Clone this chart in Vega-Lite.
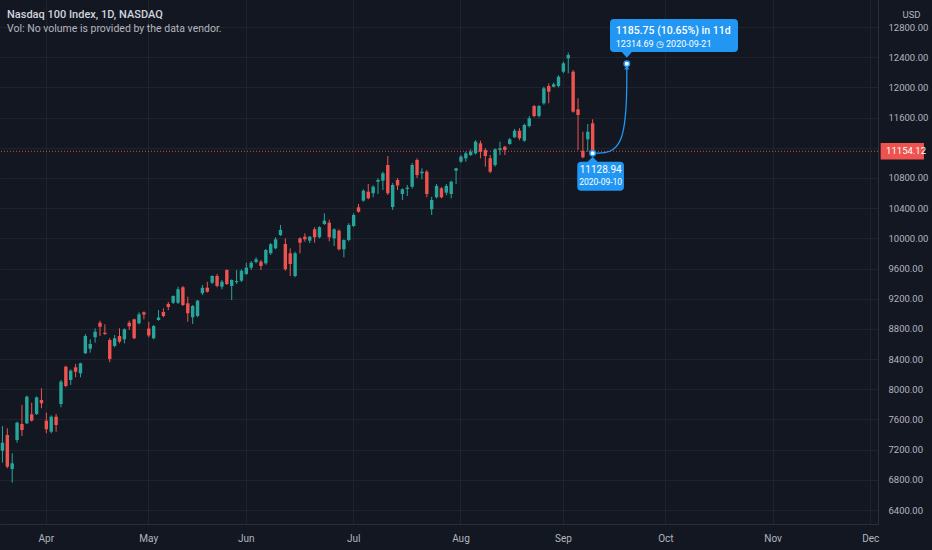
{
  "$schema": "https://vega.github.io/schema/vega-lite/v6.json",
  "width": 878,
  "height": 524,
  "autosize": "none",
  "padding": {"left": 0, "top": 0, "right": 54, "bottom": 26},
  "background": "#131722",
  "config": {"view": {"stroke": null}, "font": "Roboto"},
  "title": {
    "text": "Nasdaq 100 Index, 1D, NASDAQ",
    "subtitle": "Vol: No volume is provided by the data vendor.",
    "anchor": "start",
    "frame": "group",
    "orient": "top",
    "offset": -34,
    "dx": 7,
    "color": "#d1d4dc",
    "subtitleColor": "#b2b5be",
    "fontSize": 11,
    "fontWeight": 500,
    "subtitleFontSize": 10.5,
    "subtitlePadding": 4
  },
  "data": {
    "values": [
      {"d": "2020-03-19", "o": 7186, "h": 7513, "l": 7027, "c": 7292},
      {"d": "2020-03-20", "o": 7394, "h": 7483, "l": 6953, "c": 6974},
      {"d": "2020-03-23", "o": 6944, "h": 7152, "l": 6762, "c": 7019},
      {"d": "2020-03-24", "o": 7328, "h": 7571, "l": 7292, "c": 7557},
      {"d": "2020-03-25", "o": 7540, "h": 7792, "l": 7381, "c": 7460},
      {"d": "2020-03-26", "o": 7549, "h": 7915, "l": 7540, "c": 7902},
      {"d": "2020-03-27", "o": 7668, "h": 7822, "l": 7571, "c": 7584},
      {"d": "2020-03-30", "o": 7672, "h": 7905, "l": 7659, "c": 7893},
      {"d": "2020-03-31", "o": 7858, "h": 8013, "l": 7748, "c": 7814},
      {"d": "2020-04-01", "o": 7584, "h": 7690, "l": 7417, "c": 7470},
      {"d": "2020-04-02", "o": 7438, "h": 7655, "l": 7417, "c": 7637},
      {"d": "2020-04-03", "o": 7637, "h": 7672, "l": 7438, "c": 7527},
      {"d": "2020-04-06", "o": 7805, "h": 8123, "l": 7761, "c": 8101},
      {"d": "2020-04-07", "o": 8299, "h": 8313, "l": 8026, "c": 8044},
      {"d": "2020-04-08", "o": 8123, "h": 8265, "l": 8057, "c": 8246},
      {"d": "2020-04-09", "o": 8291, "h": 8335, "l": 8159, "c": 8233},
      {"d": "2020-04-13", "o": 8212, "h": 8352, "l": 8159, "c": 8344},
      {"d": "2020-04-14", "o": 8477, "h": 8733, "l": 8468, "c": 8706},
      {"d": "2020-04-15", "o": 8538, "h": 8662, "l": 8485, "c": 8600},
      {"d": "2020-04-16", "o": 8689, "h": 8808, "l": 8617, "c": 8763},
      {"d": "2020-04-17", "o": 8882, "h": 8909, "l": 8706, "c": 8829},
      {"d": "2020-04-20", "o": 8750, "h": 8861, "l": 8719, "c": 8733},
      {"d": "2020-04-21", "o": 8653, "h": 8676, "l": 8358, "c": 8401},
      {"d": "2020-04-22", "o": 8574, "h": 8719, "l": 8556, "c": 8676},
      {"d": "2020-04-23", "o": 8706, "h": 8808, "l": 8609, "c": 8631},
      {"d": "2020-04-24", "o": 8662, "h": 8808, "l": 8609, "c": 8795},
      {"d": "2020-04-27", "o": 8882, "h": 8909, "l": 8786, "c": 8834},
      {"d": "2020-04-28", "o": 8927, "h": 8935, "l": 8662, "c": 8676},
      {"d": "2020-04-29", "o": 8874, "h": 9020, "l": 8861, "c": 8993},
      {"d": "2020-04-30", "o": 9020, "h": 9031, "l": 8927, "c": 8991},
      {"d": "2020-05-01", "o": 8805, "h": 8896, "l": 8689, "c": 8713},
      {"d": "2020-05-04", "o": 8676, "h": 8852, "l": 8662, "c": 8838},
      {"d": "2020-05-05", "o": 8918, "h": 9050, "l": 8909, "c": 8951},
      {"d": "2020-05-06", "o": 9024, "h": 9073, "l": 8954, "c": 8971},
      {"d": "2020-05-07", "o": 9130, "h": 9157, "l": 9050, "c": 9090},
      {"d": "2020-05-08", "o": 9147, "h": 9245, "l": 9130, "c": 9236},
      {"d": "2020-05-11", "o": 9147, "h": 9359, "l": 9130, "c": 9325},
      {"d": "2020-05-12", "o": 9351, "h": 9369, "l": 9104, "c": 9117},
      {"d": "2020-05-13", "o": 9139, "h": 9227, "l": 8895, "c": 9007},
      {"d": "2020-05-14", "o": 8954, "h": 9117, "l": 8865, "c": 9104},
      {"d": "2020-05-15", "o": 8971, "h": 9183, "l": 8954, "c": 9174},
      {"d": "2020-05-18", "o": 9272, "h": 9382, "l": 9250, "c": 9345},
      {"d": "2020-05-19", "o": 9346, "h": 9425, "l": 9280, "c": 9293},
      {"d": "2020-05-20", "o": 9412, "h": 9510, "l": 9395, "c": 9501},
      {"d": "2020-05-21", "o": 9501, "h": 9528, "l": 9351, "c": 9369},
      {"d": "2020-05-22", "o": 9359, "h": 9448, "l": 9325, "c": 9425},
      {"d": "2020-05-26", "o": 9580, "h": 9590, "l": 9382, "c": 9395},
      {"d": "2020-05-27", "o": 9369, "h": 9457, "l": 9183, "c": 9448},
      {"d": "2020-05-28", "o": 9420, "h": 9580, "l": 9395, "c": 9434},
      {"d": "2020-05-29", "o": 9439, "h": 9590, "l": 9420, "c": 9571},
      {"d": "2020-06-01", "o": 9528, "h": 9677, "l": 9514, "c": 9611},
      {"d": "2020-06-02", "o": 9611, "h": 9700, "l": 9580, "c": 9677},
      {"d": "2020-06-03", "o": 9686, "h": 9749, "l": 9669, "c": 9722},
      {"d": "2020-06-04", "o": 9691, "h": 9713, "l": 9580, "c": 9634},
      {"d": "2020-06-05", "o": 9669, "h": 9858, "l": 9650, "c": 9846},
      {"d": "2020-06-08", "o": 9802, "h": 9938, "l": 9780, "c": 9921},
      {"d": "2020-06-09", "o": 9868, "h": 10014, "l": 9855, "c": 9987},
      {"d": "2020-06-10", "o": 10044, "h": 10177, "l": 10031, "c": 10111},
      {"d": "2020-06-11", "o": 9925, "h": 10000, "l": 9571, "c": 9590},
      {"d": "2020-06-12", "o": 9802, "h": 9868, "l": 9501, "c": 9660},
      {"d": "2020-06-15", "o": 9501, "h": 9823, "l": 9484, "c": 9802},
      {"d": "2020-06-16", "o": 9999, "h": 10014, "l": 9802, "c": 9942},
      {"d": "2020-06-17", "o": 10022, "h": 10067, "l": 9956, "c": 9987},
      {"d": "2020-06-18", "o": 9969, "h": 10031, "l": 9938, "c": 10022},
      {"d": "2020-06-19", "o": 10120, "h": 10147, "l": 9942, "c": 10014},
      {"d": "2020-06-22", "o": 10014, "h": 10160, "l": 10000, "c": 10147},
      {"d": "2020-06-23", "o": 10190, "h": 10332, "l": 10177, "c": 10234},
      {"d": "2020-06-24", "o": 10207, "h": 10247, "l": 9960, "c": 10014},
      {"d": "2020-06-25", "o": 10000, "h": 10133, "l": 9899, "c": 10120},
      {"d": "2020-06-26", "o": 10101, "h": 10120, "l": 9840, "c": 9855},
      {"d": "2020-06-29", "o": 9855, "h": 9987, "l": 9749, "c": 9978},
      {"d": "2020-06-30", "o": 9978, "h": 10200, "l": 9960, "c": 10177},
      {"d": "2020-07-01", "o": 10164, "h": 10332, "l": 10150, "c": 10309},
      {"d": "2020-07-02", "o": 10411, "h": 10455, "l": 10340, "c": 10353},
      {"d": "2020-07-06", "o": 10499, "h": 10650, "l": 10486, "c": 10631},
      {"d": "2020-07-07", "o": 10618, "h": 10720, "l": 10517, "c": 10531},
      {"d": "2020-07-08", "o": 10597, "h": 10703, "l": 10544, "c": 10684},
      {"d": "2020-07-09", "o": 10751, "h": 10796, "l": 10588, "c": 10773},
      {"d": "2020-07-10", "o": 10764, "h": 10883, "l": 10640, "c": 10862},
      {"d": "2020-07-13", "o": 10972, "h": 11091, "l": 10574, "c": 10597},
      {"d": "2020-07-14", "o": 10415, "h": 10733, "l": 10376, "c": 10707},
      {"d": "2020-07-15", "o": 10773, "h": 10800, "l": 10640, "c": 10700},
      {"d": "2020-07-16", "o": 10588, "h": 10663, "l": 10508, "c": 10650},
      {"d": "2020-07-17", "o": 10654, "h": 10707, "l": 10561, "c": 10671},
      {"d": "2020-07-20", "o": 10684, "h": 11000, "l": 10660, "c": 10972},
      {"d": "2020-07-21", "o": 11038, "h": 11060, "l": 10800, "c": 10839},
      {"d": "2020-07-22", "o": 10862, "h": 10928, "l": 10782, "c": 10883},
      {"d": "2020-07-23", "o": 10883, "h": 10905, "l": 10544, "c": 10588},
      {"d": "2020-07-24", "o": 10385, "h": 10552, "l": 10309, "c": 10508},
      {"d": "2020-07-27", "o": 10544, "h": 10720, "l": 10530, "c": 10694},
      {"d": "2020-07-28", "o": 10663, "h": 10680, "l": 10530, "c": 10544},
      {"d": "2020-07-29", "o": 10605, "h": 10720, "l": 10570, "c": 10694},
      {"d": "2020-07-30", "o": 10588, "h": 10764, "l": 10530, "c": 10751},
      {"d": "2020-07-31", "o": 10897, "h": 10935, "l": 10720, "c": 10928},
      {"d": "2020-08-03", "o": 11016, "h": 11105, "l": 11000, "c": 11082},
      {"d": "2020-08-04", "o": 11060, "h": 11148, "l": 11016, "c": 11127},
      {"d": "2020-08-05", "o": 11104, "h": 11180, "l": 11090, "c": 11148},
      {"d": "2020-08-06", "o": 11127, "h": 11300, "l": 11110, "c": 11281},
      {"d": "2020-08-07", "o": 11259, "h": 11294, "l": 11060, "c": 11148},
      {"d": "2020-08-10", "o": 11170, "h": 11193, "l": 10950, "c": 11091},
      {"d": "2020-08-11", "o": 11061, "h": 11104, "l": 10862, "c": 10883},
      {"d": "2020-08-12", "o": 10972, "h": 11193, "l": 10950, "c": 11180},
      {"d": "2020-08-13", "o": 11170, "h": 11281, "l": 11104, "c": 11193},
      {"d": "2020-08-14", "o": 11214, "h": 11225, "l": 11104, "c": 11170},
      {"d": "2020-08-17", "o": 11250, "h": 11330, "l": 11240, "c": 11312},
      {"d": "2020-08-18", "o": 11339, "h": 11450, "l": 11330, "c": 11426},
      {"d": "2020-08-19", "o": 11426, "h": 11460, "l": 11300, "c": 11326},
      {"d": "2020-08-20", "o": 11294, "h": 11520, "l": 11280, "c": 11502},
      {"d": "2020-08-21", "o": 11488, "h": 11620, "l": 11470, "c": 11590},
      {"d": "2020-08-24", "o": 11753, "h": 11767, "l": 11604, "c": 11621},
      {"d": "2020-08-25", "o": 11621, "h": 11767, "l": 11600, "c": 11753},
      {"d": "2020-08-26", "o": 11789, "h": 12010, "l": 11770, "c": 11988},
      {"d": "2020-08-27", "o": 12018, "h": 12054, "l": 11789, "c": 11943},
      {"d": "2020-08-28", "o": 12009, "h": 12062, "l": 12000, "c": 12041},
      {"d": "2020-08-31", "o": 12018, "h": 12160, "l": 12000, "c": 12142},
      {"d": "2020-09-01", "o": 12208, "h": 12341, "l": 12187, "c": 12319},
      {"d": "2020-09-02", "o": 12385, "h": 12460, "l": 12187, "c": 12429},
      {"d": "2020-09-03", "o": 12208, "h": 12230, "l": 11665, "c": 11678},
      {"d": "2020-09-04", "o": 11710, "h": 11856, "l": 11170, "c": 11634},
      {"d": "2020-09-08", "o": 11161, "h": 11413, "l": 11060, "c": 11074},
      {"d": "2020-09-09", "o": 11312, "h": 11515, "l": 11148, "c": 11413},
      {"d": "2020-09-10", "o": 11524, "h": 11577, "l": 11128.94, "c": 11154.12},
      {"d": "2020-09-11"}, {"d": "2020-09-14"}, {"d": "2020-09-15"}, {"d": "2020-09-16"},
      {"d": "2020-09-17"}, {"d": "2020-09-18"}, {"d": "2020-09-21"}, {"d": "2020-09-22"},
      {"d": "2020-09-23"}, {"d": "2020-09-24"}, {"d": "2020-09-25"}, {"d": "2020-09-28"},
      {"d": "2020-09-29"}, {"d": "2020-09-30"}, {"d": "2020-10-01"}, {"d": "2020-10-02"},
      {"d": "2020-10-05"}, {"d": "2020-10-06"}, {"d": "2020-10-07"}, {"d": "2020-10-08"},
      {"d": "2020-10-09"}, {"d": "2020-10-12"}, {"d": "2020-10-13"}, {"d": "2020-10-14"},
      {"d": "2020-10-15"}, {"d": "2020-10-16"}, {"d": "2020-10-19"}, {"d": "2020-10-20"},
      {"d": "2020-10-21"}, {"d": "2020-10-22"}, {"d": "2020-10-23"}, {"d": "2020-10-26"},
      {"d": "2020-10-27"}, {"d": "2020-10-28"}, {"d": "2020-10-29"}, {"d": "2020-10-30"},
      {"d": "2020-11-02"}, {"d": "2020-11-03"}, {"d": "2020-11-04"}, {"d": "2020-11-05"},
      {"d": "2020-11-06"}, {"d": "2020-11-09"}, {"d": "2020-11-10"}, {"d": "2020-11-11"},
      {"d": "2020-11-12"}, {"d": "2020-11-13"}, {"d": "2020-11-16"}, {"d": "2020-11-17"},
      {"d": "2020-11-18"}, {"d": "2020-11-19"}, {"d": "2020-11-20"}, {"d": "2020-11-23"},
      {"d": "2020-11-24"}, {"d": "2020-11-25"}, {"d": "2020-11-27"}, {"d": "2020-11-30"},
      {"d": "2020-12-01"}, {"d": "2020-12-02"}
    ]
  },
  "layer": [
    {
      "mark": {"type": "tick", "opacity": 0},
      "encoding": {
        "x": {
          "field": "d",
          "type": "ordinal",
          "title": null,
          "scale": {"paddingInner": 0, "paddingOuter": 0},
          "axis": {
            "values": ["2020-04-01", "2020-05-01", "2020-06-01", "2020-07-01", "2020-08-03", "2020-09-01", "2020-10-01", "2020-11-02", "2020-12-01"],
            "labelExpr": "utcFormat(toDate(datum.value), '%b')",
            "labelAngle": 0,
            "labelColor": "#b2b5be",
            "labelFontSize": 10,
            "labelPadding": 9,
            "ticks": false,
            "tickSize": 0,
            "grid": true,
            "gridColor": "#1f232e",
            "domainColor": "#2a2e39"
          }
        }
      }
    },
    {
      "mark": {"type": "rule", "strokeWidth": 1},
      "encoding": {
        "x": {"field": "d", "type": "ordinal", "title": null},
        "y": {
          "field": "l",
          "type": "quantitative",
          "scale": {"domain": [6215, 13158], "nice": false, "zero": false},
          "axis": {
            "title": "USD",
            "orient": "right",
            "values": [6400, 6800, 7200, 7600, 8000, 8400, 8800, 9200, 9600, 10000, 10400, 10800, 11200, 11600, 12000, 12400, 12800],
            "tickCount": 20,
            "labelExpr": "datum.value == 11200 ? '' : format(datum.value, '.2f')",
            "labelOverlap": false,
            "labelColor": "#b2b5be",
            "labelFontSize": 9.5,
            "labelPadding": 10,
            "ticks": false,
            "tickSize": 0,
            "grid": true,
            "gridColor": "#1f232e",
            "domainColor": "#2a2e39",
            "titleAngle": 0,
            "titleX": 33,
            "titleY": 14,
            "titleAlign": "center",
            "titleBaseline": "middle",
            "titleColor": "#b2b5be",
            "titleFontSize": 9.5,
            "titleFontWeight": "normal"
          }
        },
        "y2": {"field": "h"},
        "color": {"condition": {"test": "datum.c >= datum.o", "value": "#26a69a"}, "value": "#ef5350"}
      }
    },
    {
      "mark": {"type": "bar", "width": {"band": 0.7}},
      "encoding": {
        "x": {"field": "d", "type": "ordinal"},
        "y": {"field": "o", "type": "quantitative"},
        "y2": {"field": "c"},
        "color": {"condition": {"test": "datum.c >= datum.o", "value": "#26a69a"}, "value": "#ef5350"}
      }
    },
    {
      "data": {"values": [{"p": 11154.12}]},
      "mark": {"type": "rule", "color": "#ef5350", "strokeDash": [1, 2], "strokeWidth": 1, "opacity": 0.9},
      "encoding": {"y": {"field": "p", "type": "quantitative"}}
    },
    {
      "data": {"values": [
        {"d": "2020-09-10", "p": 11128.94, "k": 0},
        {"d": "2020-09-21", "p": 11128.94, "k": 1},
        {"d": "2020-09-21", "p": 12314.69, "k": 2}
      ]},
      "mark": {"type": "line", "interpolate": "basis", "color": "#2196f3", "strokeWidth": 1.3},
      "encoding": {
        "x": {"field": "d", "type": "ordinal"},
        "y": {"field": "p", "type": "quantitative"},
        "order": {"field": "k", "type": "quantitative"}
      }
    },
    {
      "data": {"values": [{"d": "2020-09-21", "p": 12314.69}]},
      "mark": {"type": "point", "shape": "M-0.5,1.15L0,0.3L0.5,1.15Z", "size": 100, "filled": true, "opacity": 1, "strokeWidth": 0, "color": "#2196f3"},
      "encoding": {
        "x": {"field": "d", "type": "ordinal"},
        "y": {"field": "p", "type": "quantitative"}
      }
    },
    {
      "data": {"values": [{"d": "2020-09-10", "p": 11128.94}, {"d": "2020-09-21", "p": 12314.69}]},
      "mark": {"type": "point", "shape": "circle", "size": 30, "filled": true, "opacity": 1, "fill": "#ffffff", "stroke": "#2196f3", "strokeWidth": 1.5},
      "encoding": {
        "x": {"field": "d", "type": "ordinal"},
        "y": {"field": "p", "type": "quantitative"}
      }
    },
    {
      "data": {"values": [{"d": "2020-09-21", "p": 12314.69, "l1": "1185.75 (10.65%) in 11d", "l2": "12314.69 ◷ 2020-09-21"}]},
      "layer": [
        {
          "mark": {"type": "point", "shape": "M-0.128,-0.446H1.072Q1.112,-0.446,1.112,-0.406V-0.156Q1.112,-0.116,1.072,-0.116H0.05L0,-0.06L-0.05,-0.116H-0.128Q-0.168,-0.116,-0.168,-0.156V-0.406Q-0.168,-0.446,-0.128,-0.446Z", "size": 40000, "filled": true, "opacity": 1, "strokeWidth": 0, "color": "#2196f3"}
        },
        {
          "mark": {"type": "text", "align": "left", "baseline": "middle", "dx": -11, "dy": -33, "fontSize": 10.5, "fontWeight": 500, "color": "#ffffff"},
          "encoding": {"text": {"field": "l1"}}
        },
        {
          "mark": {"type": "text", "align": "left", "baseline": "middle", "dx": -11, "dy": -19.5, "fontSize": 9, "color": "#ffffff"},
          "encoding": {"text": {"field": "l2"}}
        }
      ],
      "encoding": {
        "x": {"field": "d", "type": "ordinal"},
        "y": {"field": "p", "type": "quantitative"}
      }
    },
    {
      "data": {"values": [{"d": "2020-09-10", "p": 11128.94, "l1": "11128.94", "l2": "2020-09-10"}]},
      "layer": [
        {
          "mark": {"type": "point", "shape": "M-0.114,0.086H-0.05L0,0.036L0.05,0.086H0.273Q0.313,0.086,0.313,0.126V0.336Q0.313,0.376,0.273,0.376H-0.114Q-0.154,0.376,-0.154,0.336V0.126Q-0.154,0.086,-0.114,0.086Z", "size": 40000, "filled": true, "opacity": 1, "strokeWidth": 0, "color": "#2196f3"}
        },
        {
          "mark": {"type": "text", "align": "center", "baseline": "middle", "dx": 8, "dy": 16.5, "fontSize": 10, "color": "#ffffff"},
          "encoding": {"text": {"field": "l1"}}
        },
        {
          "mark": {"type": "text", "align": "center", "baseline": "middle", "dx": 8, "dy": 28.5, "fontSize": 8.5, "color": "#ffffff"},
          "encoding": {"text": {"field": "l2"}}
        }
      ],
      "encoding": {
        "x": {"field": "d", "type": "ordinal"},
        "y": {"field": "p", "type": "quantitative"}
      }
    },
    {
      "data": {"values": [{"d": "2020-12-02", "p": 11154.12}]},
      "layer": [
        {
          "mark": {"type": "point", "shape": "M0.051,-0.083H0.484V0.083H0.051Z", "size": 40000, "filled": true, "opacity": 1, "strokeWidth": 0, "color": "#ef5350"}
        },
        {
          "mark": {"type": "text", "align": "center", "baseline": "middle", "dx": 30.5, "fontSize": 9.5, "color": "#ffffff"},
          "encoding": {"text": {"field": "p", "type": "quantitative", "format": ".2f"}}
        }
      ],
      "encoding": {
        "x": {"field": "d", "type": "ordinal"},
        "y": {"field": "p", "type": "quantitative"}
      }
    }
  ]
}
